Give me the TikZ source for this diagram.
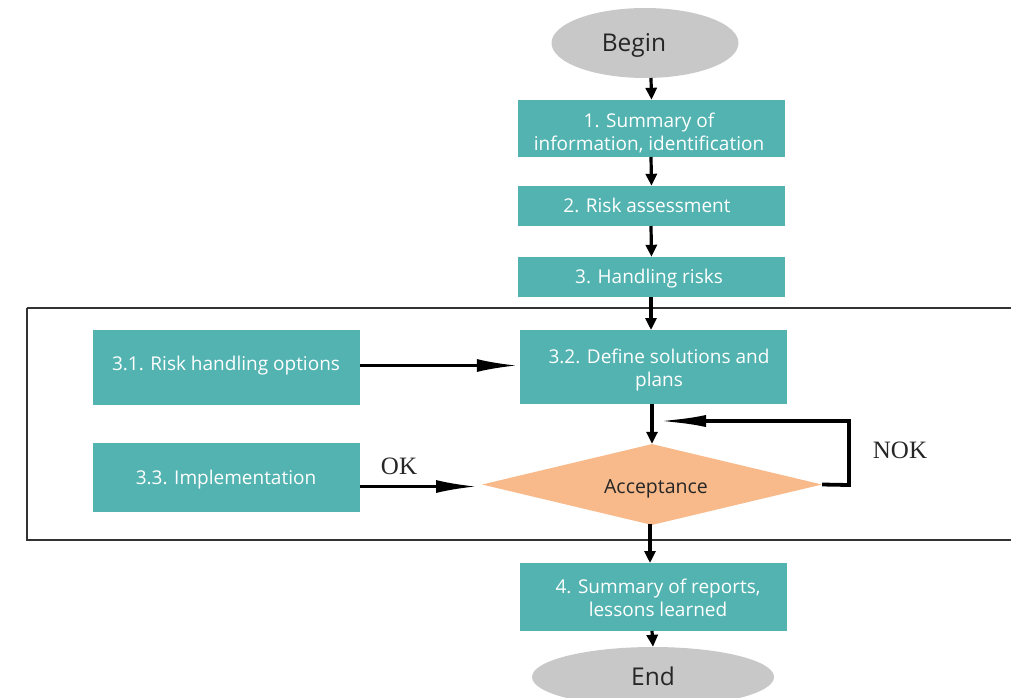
\documentclass[tikz,border=0pt]{standalone}
\usepackage{fontspec}
\setmainfont{Open Sans}
\newfontfamily\labelfont{Liberation Serif}
\usetikzlibrary{arrows.meta,shapes.geometric}
\definecolor{teal1}{HTML}{52B3B1}
\definecolor{grayE}{HTML}{C8C8C8}
\definecolor{peach}{HTML}{F8BA8A}
\definecolor{frameC}{HTML}{333333}
\tikzset{
  stepbox/.style={rectangle, fill=teal1, text=white, align=center, inner sep=0pt, font=\fontsize{19}{23}\selectfont},
  term/.style={ellipse, fill=grayE, text=black!85, inner sep=0pt},
  termtext/.style={font=\fontsize{24.5}{28}\selectfont, text=black!85, inner sep=0pt},
  varrow/.style={line width=3.2pt, -{Triangle[length=12pt,width=11pt]}},
  harrow/.style={line width=2.6pt, -{Latex[length=40pt,width=13pt]}},
  lbl/.style={font=\labelfont\fontsize{25}{28}\selectfont, text=black!85, inner sep=0pt}
}
\begin{document}
\begin{tikzpicture}[x=1pt,y=-1pt]
\useasboundingbox (0,0) rectangle (1011,697);
% frame
\draw[frameC, line width=1.8pt] (27,308) -- (1020,308) (27,308) -- (27,540) -- (1020,540);
% nodes
\node[term, minimum width=187pt, minimum height=70pt] (begin) at (645,43) {};
\node[termtext] (begint) at (634,45) {Begin};
\node[stepbox, minimum width=267pt, minimum height=57pt] (s1) at (651.5,128.5) {};
\node[stepbox] (s1t) at (649,133) {1. Summary of\\information, identification};
\node[stepbox, minimum width=267pt, minimum height=40pt] (s2) at (651.5,206) {};
\node[stepbox] (s2t) at (647,205) {2. Risk assessment};
\node[stepbox, minimum width=267pt, minimum height=40pt] (s3) at (651.5,277) {};
\node[stepbox] (s3t) at (649,279) {3. Handling risks};
\node[stepbox, minimum width=267pt, minimum height=75pt] (s31) at (226.5,367.5) {};
\node[stepbox] (s31t) at (226,366) {3.1. Risk handling options};
\node[stepbox, minimum width=267pt, minimum height=74pt] (s32) at (653.5,367) {};
\node[stepbox] (s32t) at (659,370) {3.2. Define solutions and\\plans};
\node[stepbox, minimum width=267pt, minimum height=69pt] (s33) at (226.5,477.5) {};
\node[stepbox] (s33t) at (226,480) {3.3. Implementation};
\node[diamond, fill=peach, minimum width=340pt, minimum height=81pt, aspect=4.2, inner sep=0pt] (acc) at (652,484.5) {};
\node[font=\fontsize{19.5}{23}\selectfont, text=black!85, inner sep=0pt] (acct) at (656,489) {Acceptance};
\node[stepbox, minimum width=267pt, minimum height=68pt] (s4) at (653.5,597) {};
\node[stepbox] (s4t) at (658,598) {4. Summary of reports,\\lessons learned};
\node[term, minimum width=242pt, minimum height=60pt] (end) at (653,677) {};
\node[termtext] (endt) at (653,676) {End};
% vertical arrows
\draw[varrow] (651,78) -- (s1.north);
\draw[varrow] (651,157) -- (s2.north);
\draw[varrow] (651,226) -- (s3.north);
\draw[varrow] (651,297) -- (651,330);
\draw[varrow] (652,404) -- (acc.north);
\draw[varrow] (650,524) -- (650,563);
\draw[varrow] (652,631) -- (end.north);
% horizontal arrows
\draw[harrow] ([yshift=2pt]s31.east) -- ([yshift=1.5pt,xshift=-3pt]s32.west);
\draw[harrow] (360,486.5) -- (476,486.5);
\node[lbl] (ok) at (399,466) {OK};
% NOK loop
\coordinate (n1) at (849,485);
\coordinate (n2) at (849,421);
\draw[line width=3.8pt, -{Latex[length=48pt,width=12pt]}] (acc.east) -- (n1) -- (n2) -- (658,421);
\node[lbl] (nok) at (900,450) {NOK};
\end{tikzpicture}
\end{document}
